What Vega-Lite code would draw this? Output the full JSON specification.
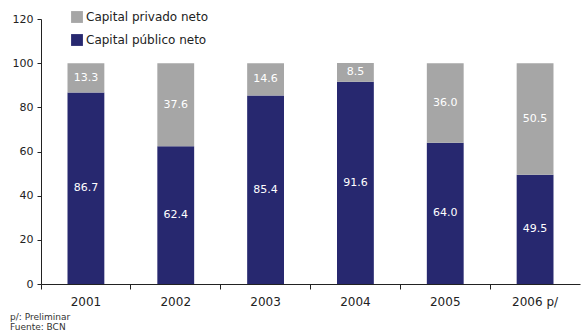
{
  "$schema": "https://vega.github.io/schema/vega-lite/v6.json",
  "width": 539,
  "height": 265,
  "autosize": "none",
  "padding": {"left": 41, "top": 19, "right": 4, "bottom": 50},
  "background": "white",
  "config": {"view": {"stroke": null}, "font": "DejaVu Sans"},
  "title": {
    "text": "p/: Preliminar",
    "subtitle": "Fuente: BCN",
    "orient": "bottom",
    "anchor": "start",
    "frame": "group",
    "dx": -31,
    "offset": 6,
    "fontSize": 9,
    "fontWeight": "normal",
    "subtitleFontSize": 9,
    "color": "#333333",
    "subtitleColor": "#333333",
    "subtitlePadding": 1
  },
  "data": {
    "values": [
      {"year": "2001", "tipo": "Capital público neto", "v": 86.7, "ord": 1},
      {"year": "2001", "tipo": "Capital privado neto", "v": 13.3, "ord": 2},
      {"year": "2002", "tipo": "Capital público neto", "v": 62.4, "ord": 1},
      {"year": "2002", "tipo": "Capital privado neto", "v": 37.6, "ord": 2},
      {"year": "2003", "tipo": "Capital público neto", "v": 85.4, "ord": 1},
      {"year": "2003", "tipo": "Capital privado neto", "v": 14.6, "ord": 2},
      {"year": "2004", "tipo": "Capital público neto", "v": 91.6, "ord": 1},
      {"year": "2004", "tipo": "Capital privado neto", "v": 8.5, "ord": 2},
      {"year": "2005", "tipo": "Capital público neto", "v": 64.0, "ord": 1},
      {"year": "2005", "tipo": "Capital privado neto", "v": 36.0, "ord": 2},
      {"year": "2006 p/", "tipo": "Capital público neto", "v": 49.5, "ord": 1},
      {"year": "2006 p/", "tipo": "Capital privado neto", "v": 50.5, "ord": 2}
    ]
  },
  "transform": [
    {"stack": "v", "groupby": ["year"], "sort": [{"field": "ord"}], "as": ["y0", "y1"]},
    {"calculate": "(datum.y0 + datum.y1) / 2", "as": "mid"}
  ],
  "encoding": {
    "x": {
      "field": "year",
      "type": "nominal",
      "scale": {"paddingInner": 0, "paddingOuter": 0},
      "axis": {
        "title": null,
        "labelAngle": 0,
        "labelFontSize": 12,
        "labelColor": "#222222",
        "labelPadding": 7,
        "bandPosition": 0,
        "tickSize": 5,
        "tickColor": "#222222",
        "domainColor": "#222222"
      }
    }
  },
  "layer": [
    {
      "mark": {"type": "bar", "width": {"band": 0.41}},
      "encoding": {
        "y": {
          "field": "y0",
          "type": "quantitative",
          "scale": {"domain": [0, 120]},
          "axis": {
            "title": null,
            "values": [0, 20, 40, 60, 80, 100, 120],
            "grid": false,
            "labelFontSize": 11,
            "labelColor": "#222222",
            "tickSize": 4,
            "tickColor": "#222222",
            "domainColor": "#222222",
            "labelPadding": 4
          }
        },
        "y2": {"field": "y1"},
        "color": {
          "field": "tipo",
          "type": "nominal",
          "scale": {
            "domain": ["Capital privado neto", "Capital público neto"],
            "range": ["#a6a6a6", "#27286f"]
          },
          "legend": {
            "title": null,
            "orient": "none",
            "legendX": 30,
            "legendY": -8,
            "symbolType": "square",
            "symbolSize": 140,
            "symbolStrokeWidth": 0,
            "labelFontSize": 12,
            "labelColor": "#222222",
            "rowPadding": 11,
            "labelOffset": 3
          }
        }
      }
    },
    {
      "mark": {"type": "text", "color": "white", "fontSize": 11},
      "encoding": {
        "y": {"field": "mid", "type": "quantitative"},
        "text": {"field": "v", "type": "quantitative", "format": ".1f"}
      }
    }
  ]
}
